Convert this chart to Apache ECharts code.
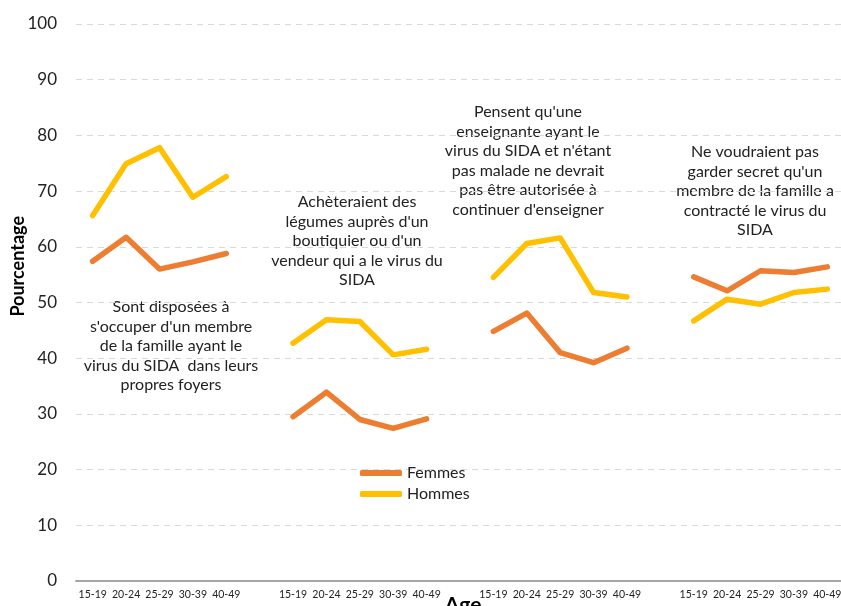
<!DOCTYPE html>
<html>
<head>
<meta charset="utf-8">
<script src="https://cdn.jsdelivr.net/npm/echarts@6/dist/echarts.min.js"></script>
<style>
  html, body { margin: 0; padding: 0; background: #fff; }
  #chart { width: 841px; height: 606px; }
</style>
</head>
<body>
<div id="chart"></div>
<script>
// Age groups repeated for each attitude indicator
const ages = ['15-19', '20-24', '25-29', '30-39', '40-49'];

// Indicator 1: willing to care for an HIV+ relative at home
const femmes1 = [57.4, 61.7, 56.0, 57.3, 58.8];
const hommes1 = [65.6, 74.9, 77.8, 68.9, 72.6];
// Indicator 2: would buy vegetables from an HIV+ vendor
const femmes2 = [29.5, 33.9, 29.0, 27.4, 29.1];
const hommes2 = [42.7, 46.9, 46.6, 40.6, 41.6];
// Indicator 3: HIV+ teacher should not be allowed to teach
const femmes3 = [44.8, 48.1, 41.0, 39.2, 41.8];
const hommes3 = [54.5, 60.6, 61.6, 51.8, 51.0];
// Indicator 4: would not keep a relative's HIV status secret
const femmes4 = [54.6, 52.1, 55.7, 55.4, 56.4];
const hommes4 = [46.7, 50.6, 49.7, 51.8, 52.4];

const yTicks = [0, 10, 20, 30, 40, 50, 60, 70, 80, 90, 100];

const groupTitles = [
  "Sont disposées à\ns'occuper d'un membre\nde la famille ayant le\nvirus du SIDA  dans leurs\npropres foyers",
  "Achèteraient des\nlégumes auprès d'un\nboutiquier ou d'un\nvendeur qui a le virus du\nSIDA",
  "Pensent qu'une\nenseignante ayant le\nvirus du SIDA et n'étant\npas malade ne devrait\npas être autorisée à\ncontinuer d'enseigner",
  "Ne voudraient pas\ngarder secret qu'un\nmembre de la famille a\ncontracté le virus du\nSIDA"
];

// Join the four groups with an empty category between them
function joinGroups(groups, filler) {
  const out = [];
  groups.forEach((g, i) => {
    if (i > 0) out.push(filler);
    g.forEach(v => out.push(v));
  });
  return out;
}
const categories = joinGroups([ages, ages, ages, ages], '');
const femmes = joinGroups([femmes1, femmes2, femmes3, femmes4], null);
const hommes = joinGroups([hommes1, hommes2, hommes3, hommes4], null);

const FONT = 'Lato, "Open Sans", sans-serif';
const TXT = '#222';

const chart = echarts.init(document.getElementById('chart'), null, { renderer: 'canvas' });

// Annotation placement: centre x and top y of each text block
const annPos = [[171, 297], [357, 192], [528, 102], [755, 142]];

chart.setOption({
  animation: false,
  backgroundColor: '#fff',
  grid: { left: 76, right: -3, top: 24, bottom: 25, containLabel: false, outerBoundsMode: 'none' },
  xAxis: {
    type: 'category',
    data: categories,
    boundaryGap: true,
    axisLine: { lineStyle: { color: '#a6a6a6', width: 2 } },
    axisTick: { show: false },
    axisLabel: { interval: 0, fontFamily: FONT, fontSize: 10.5, color: TXT, margin: 8 },
    splitLine: { show: false }
  },
  yAxis: {
    type: 'value',
    min: yTicks[0],
    max: yTicks[yTicks.length - 1],
    interval: 10,
    axisLine: { show: false },
    axisTick: { show: false },
    axisLabel: { fontFamily: FONT, fontSize: 17, color: TXT, margin: 19 },
    splitLine: { lineStyle: { color: '#d9d9d9', type: [6, 5], width: 1 } }
  },
  legend: {
    orient: 'vertical',
    left: 355,
    top: 460,
    itemWidth: 42,
    itemHeight: 6,
    itemGap: 5,
    icon: 'roundRect',
    itemStyle: { borderWidth: 0 },
    lineStyle: { width: 0, opacity: 0 },
    textStyle: { fontFamily: FONT, fontSize: 16, color: TXT },
    data: ['Femmes', 'Hommes']
  },
  series: [
    {
      name: 'Femmes',
      type: 'line',
      data: femmes,
      symbol: 'none',
      connectNulls: false,
      lineStyle: { color: '#ED7D31', width: 5.5, cap: 'round', join: 'round' },
      itemStyle: { color: '#ED7D31' }
    },
    {
      name: 'Hommes',
      type: 'line',
      data: hommes,
      symbol: 'none',
      connectNulls: false,
      lineStyle: { color: '#FFC000', width: 5.5, cap: 'round', join: 'round' },
      itemStyle: { color: '#FFC000' }
    }
  ],
  graphic: [
    {
      type: 'text',
      left: 9,
      top: 216,
      rotation: Math.PI / 2,
      style: { text: 'Pourcentage', fontFamily: FONT, fontWeight: 'bold', fontSize: 18, fill: '#000' }
    },
    {
      // x-axis title, sitting just under the age labels
      type: 'text',
      x: 463,
      y: 595,
      style: { text: 'Age', fontFamily: FONT, fontWeight: 'bold', fontSize: 21, fill: '#000', align: 'center', verticalAlign: 'top' }
    }
  ].concat(groupTitles.map((t, i) => ({
    type: 'text',
    x: annPos[i][0],
    y: annPos[i][1],
    style: {
      text: t,
      fontFamily: FONT,
      fontSize: 16,
      lineHeight: 19.6,
      fill: TXT,
      align: 'center',
      verticalAlign: 'top'
    }
  })))
});
</script>
</body>
</html>
